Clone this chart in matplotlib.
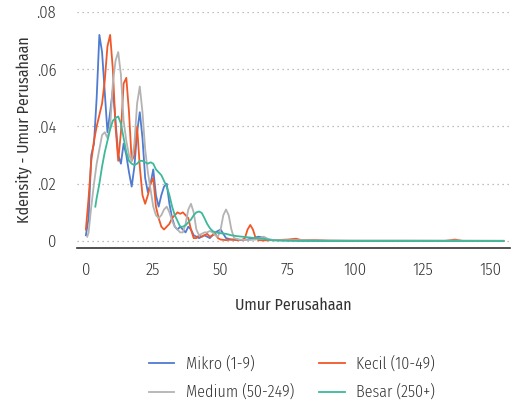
import matplotlib.pyplot as plt
from matplotlib.ticker import FixedLocator

plt.rcParams['font.family'] = ['Fira Sans Condensed', 'Asap Condensed', 'Barlow Condensed',
                               'DejaVu Sans']
plt.rcParams['font.weight'] = 300

# umur perusahaan (tahun) dan kepadatan kernel per kelompok ukuran
mikro_x = [0, 1, 2, 3, 4, 5, 6, 7, 8, 9, 10, 11, 12, 13, 14, 15, 16, 17, 18, 19,
           20, 21, 22, 23, 24, 25, 26, 27, 28, 29, 30, 31, 32, 33, 34, 35, 36, 37,
           38, 39, 40, 42, 44, 46, 48, 50, 52, 54, 56, 58, 60, 62, 64, 66, 68, 70,
           75, 80, 90, 100, 110, 120, 130, 140, 150, 155]
mikro_y = [0.002, 0.008, 0.030, 0.034, 0.050, 0.072, 0.066, 0.052, 0.038, 0.045,
           0.053, 0.042, 0.030, 0.027, 0.034, 0.030, 0.024, 0.019, 0.026, 0.038,
           0.045, 0.036, 0.022, 0.017, 0.020, 0.025, 0.016, 0.012, 0.016, 0.019,
           0.020, 0.013, 0.008, 0.005, 0.004, 0.005, 0.004, 0.003, 0.005, 0.004,
           0.002, 0.001, 0.002, 0.001, 0.003, 0.004, 0.001, 0.0005, 0.0005, 0.0003,
           0.0005, 0.001, 0.0015, 0.0012, 0.0005, 0.0003, 0.0002, 0.0001, 0, 0,
           0, 0, 0, 0, 0, 0]

kecil_x = [0, 1, 2, 3, 4, 5, 6, 7, 8, 9, 10, 11, 12, 13, 14, 15, 16, 17, 18, 19,
           20, 21, 22, 23, 24, 25, 26, 27, 28, 29, 30, 31, 32, 33, 34, 35, 36, 37,
           38, 39, 40, 41, 42, 43, 44, 45, 46, 47, 48, 49, 50, 52, 54, 56, 58, 59,
           60, 61, 62, 63, 64, 66, 70, 75, 78, 80, 85, 90, 100, 120, 133, 137, 140,
           155]
kecil_y = [0.004, 0.015, 0.028, 0.035, 0.040, 0.044, 0.048, 0.056, 0.068, 0.072,
           0.060, 0.040, 0.028, 0.038, 0.055, 0.057, 0.045, 0.028, 0.030, 0.040,
           0.026, 0.016, 0.013, 0.016, 0.020, 0.022, 0.012, 0.008, 0.005, 0.004,
           0.005, 0.006, 0.008, 0.009, 0.010, 0.0095, 0.010, 0.009, 0.008, 0.004,
           0.001, 0.001, 0.002, 0.0015, 0.002, 0.0025, 0.0015, 0.002, 0.0025, 0.001,
           0.0005, 0.0003, 0.0005, 0.0003, 0.0004, 0.001, 0.004, 0.0056, 0.004,
           0.001, 0.0003, 0.0002, 0.0003, 0.0005, 0.0008, 0.0003, 0.0004, 0.0001,
           0, 0, 0, 0.0005, 0, 0]

medium_x = [0.5, 1, 2, 3, 4, 5, 6, 7, 8, 9, 10, 11, 12, 13, 14, 15, 16, 17, 18,
            19, 20, 21, 22, 23, 24, 25, 26, 27, 28, 29, 30, 31, 32, 33, 34, 35,
            36, 37, 38, 39, 40, 41, 42, 43, 44, 45, 46, 47, 48, 49, 50, 51, 52,
            53, 54, 55, 57, 60, 63, 66, 68, 70, 80, 100, 120, 155]
medium_y = [0.0015, 0.003, 0.012, 0.020, 0.027, 0.032, 0.037, 0.038, 0.036, 0.040,
            0.055, 0.063, 0.066, 0.058, 0.042, 0.035, 0.030, 0.028, 0.034, 0.048,
            0.054, 0.045, 0.032, 0.024, 0.018, 0.012, 0.009, 0.008, 0.009, 0.011,
            0.012, 0.010, 0.007, 0.005, 0.004, 0.003, 0.003, 0.006, 0.011, 0.013,
            0.010, 0.004, 0.002, 0.0025, 0.003, 0.003, 0.0035, 0.003, 0.002,
            0.0015, 0.004, 0.009, 0.011, 0.009, 0.004, 0.001, 0.0005, 0.0003,
            0.0005, 0.0015, 0.0005, 0.0003, 0.0003, 0.0002, 0.0002, 0.0001]

besar_x = [3.5, 4, 5, 6, 7, 8, 9, 10, 11, 12, 13, 14, 15, 16, 17, 18, 19, 20, 21,
           22, 23, 24, 25, 26, 27, 28, 29, 30, 31, 32, 33, 34, 35, 36, 37, 38, 39,
           40, 41, 42, 43, 44, 45, 46, 47, 48, 50, 52, 54, 56, 58, 60, 62, 64, 66,
           68, 70, 75, 80, 90, 155]
besar_y = [0.012, 0.015, 0.020, 0.026, 0.031, 0.035, 0.039, 0.042, 0.043, 0.0435,
           0.041, 0.036, 0.031, 0.028, 0.027, 0.0265, 0.027, 0.028, 0.028, 0.0275,
           0.027, 0.0275, 0.027, 0.025, 0.024, 0.023, 0.021, 0.019, 0.016, 0.012,
           0.009, 0.007, 0.005, 0.005, 0.0055, 0.0065, 0.0075, 0.009, 0.010,
           0.0103, 0.0098, 0.008, 0.006, 0.0045, 0.0035, 0.003, 0.0027, 0.0025,
           0.002, 0.0017, 0.0015, 0.0013, 0.0011, 0.001, 0.0007, 0.0004, 0.0002,
           0.0001, 0.00005, 0, 0]

x_ticks = [0, 25, 50, 75, 100, 125, 150]
y_ticks = [0, 0.02, 0.04, 0.06, 0.08]
y_tick_labels = ['0', '.02', '.04', '.06', '.08']

fig = plt.figure(figsize=(5.19, 4.08), dpi=100)
ax = fig.add_axes([77 / 519, 1 - 248 / 408, 433 / 519, 236 / 408])

h_mikro, = ax.plot(mikro_x, mikro_y, color='#4f7bd1', lw=1.3, label='Mikro (1-9)')
h_kecil, = ax.plot(kecil_x, kecil_y, color='#f0582a', lw=1.3, label='Kecil (10-49)')
h_medium, = ax.plot(medium_x, medium_y, color='#b3b3b3', lw=1.3, label='Medium (50-249)')
h_besar, = ax.plot(besar_x, besar_y, color='#3cb99a', lw=1.3, label='Besar (250+)')

ax.set_xlim(-3.3, 157.4)
ax.set_ylim(-0.00245, 0.08)
ax.xaxis.set_major_locator(FixedLocator(x_ticks))
ax.set_yticks(y_ticks)
ax.set_yticklabels(y_tick_labels)
ax.tick_params(axis='both', length=0, labelsize=12, colors='#333333')
ax.tick_params(axis='x', pad=10)
ax.tick_params(axis='y', pad=15)

ax.yaxis.grid(True, linestyle=(0, (1, 3)), color='#aaaaaa', lw=0.9)
ax.set_axisbelow(True)
for side in ['top', 'right', 'left']:
    ax.spines[side].set_visible(False)
ax.spines['bottom'].set_color('#333333')
ax.spines['bottom'].set_linewidth(1.2)

ax.set_xlabel('Umur Perusahaan', fontsize=11.5, color='#333333', labelpad=14)
ax.set_ylabel('Kdensity - Umur Perusahaan', fontsize=11.5, color='#333333', labelpad=3)

# legenda dua kolom, diisi per baris
fig.legend([h_mikro, h_medium, h_kecil, h_besar],
           [h.get_label() for h in (h_mikro, h_medium, h_kecil, h_besar)],
           loc='center', bbox_to_anchor=(292 / 519, 1 - 378 / 408), ncol=2,
           frameon=False, fontsize=11.5, handlelength=1.6, columnspacing=1.6,
           labelspacing=0.75, handletextpad=0.7, labelcolor='#333333')

fig.savefig('out.png', dpi=100)
